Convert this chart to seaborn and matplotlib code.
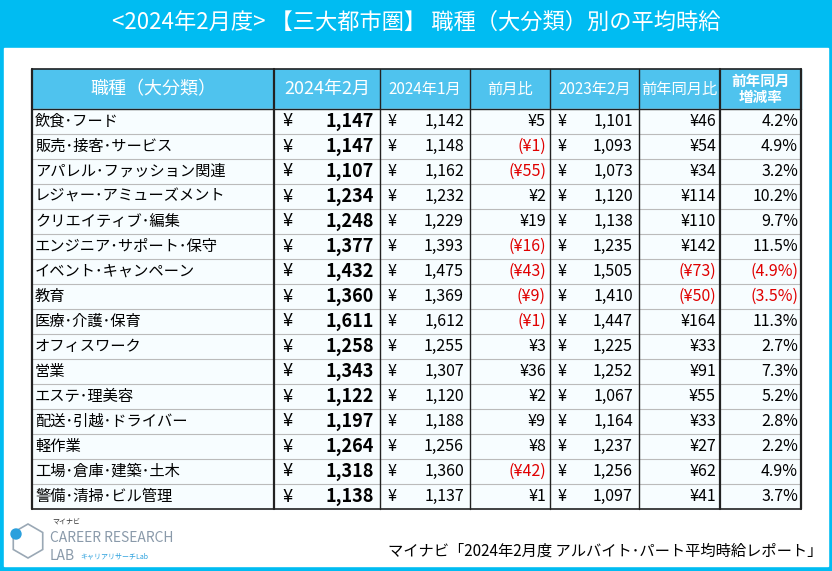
import matplotlib.pyplot as plt
import matplotlib.patches as mpatches
import seaborn as sns

sns.set_theme(style="white", font="Noto Sans CJK JP")

# data
categories = ['飲食・フード', '販売・接客・サービス', 'アパレル・ファッション関連', 'レジャー・アミューズメント',
              'クリエイティブ・編集', 'エンジニア・サポート・保守', 'イベント・キャンペーン', '教育',
              '医療・介護・保育', 'オフィスワーク', '営業', 'エステ・理美容',
              '配送・引越・ドライバー', '軽作業', '工場・倉庫・建築・土木', '警備・清掃・ビル管理']
feb_2024 = [1147, 1147, 1107, 1234, 1248, 1377, 1432, 1360, 1611, 1258, 1343, 1122, 1197, 1264, 1318, 1138]
jan_2024 = [1142, 1148, 1162, 1232, 1229, 1393, 1475, 1369, 1612, 1255, 1307, 1120, 1188, 1256, 1360, 1137]
feb_2023 = [1101, 1093, 1073, 1120, 1138, 1235, 1505, 1410, 1447, 1225, 1252, 1067, 1164, 1237, 1256, 1097]
yoy_rate = [4.2, 4.9, 3.2, 10.2, 9.7, 11.5, -4.9, -3.5, 11.3, 2.7, 7.3, 5.2, 2.8, 2.2, 4.9, 3.7]
headers = ['職種（大分類）', '2024年2月', '2024年1月', '前月比', '2023年2月', '前年同月比', '前年同月\n増減率']

BLUE = '#00BCF2'
HEAD = '#4FC3EE'
RED = '#E00000'
col_x = [32, 274, 380, 470, 550, 639, 720, 801]
top, head_h, row_h = 69, 40, 25

fig = plt.figure(figsize=(8.32, 5.71), dpi=100)
fig.patch.set_facecolor(BLUE)
ax = fig.add_axes([0, 0, 1, 1])
ax.set_xlim(0, 832)
ax.set_ylim(571, 0)
ax.axis('off')

ax.add_patch(mpatches.Rectangle((4, 48), 824, 518, color='white', zorder=0))
ax.text(416, 22, '<2024年2月度> 【三大都市圏】 職種（大分類）別の平均時給', color='white',
        fontsize=16, ha='center', va='center')

# header
ax.add_patch(mpatches.Rectangle((col_x[0], top), col_x[-1] - col_x[0], head_h, color=HEAD, zorder=1))
for i, h in enumerate(headers):
    cx = (col_x[i] + col_x[i + 1]) / 2
    fs = {0: 13, 1: 13, 6: 10.5}.get(i, 11)
    ax.text(cx, top + head_h / 2, h, color='white', fontsize=fs, ha='center', va='center',
            linespacing=1.0, fontweight='bold' if i == 6 else 'normal')

def yen(v):
    return f'¥{v:,}' if v >= 0 else f'(¥{-v:,})'

body_top = top + head_h
for r, cat in enumerate(categories):
    y = body_top + r * row_h + row_h / 2
    ax.add_patch(mpatches.Rectangle((col_x[0], body_top + r * row_h), col_x[-1] - col_x[0], row_h,
                                    color='#F7FDFF', zorder=1))
    ax.text(col_x[0] + 3, y, cat.replace('・', '･'), fontsize=11, ha='left', va='center', color='black')
    for ci, vals, fs, fw in [(1, feb_2024, 13, 'bold'), (2, jan_2024, 11.5, 'normal'), (4, feb_2023, 11.5, 'normal')]:
        ax.text(col_x[ci] + 8, y, '¥', fontsize=fs, ha='left', va='center', color='black')
        ax.text(col_x[ci + 1] - 6, y, f'{vals[r]:,}', fontsize=fs, ha='right', va='center',
                fontweight=fw, color='black')
    mom = feb_2024[r] - jan_2024[r]
    yoy = feb_2024[r] - feb_2023[r]
    ax.text(col_x[4] - 4, y, yen(mom), fontsize=11.5, ha='right', va='center',
            color=RED if mom < 0 else 'black')
    ax.text(col_x[6] - 4, y, yen(yoy), fontsize=11.5, ha='right', va='center',
            color=RED if yoy < 0 else 'black')
    rate = yoy_rate[r]
    ax.text(col_x[7] - 3, y, f'{rate:.1f}%' if rate >= 0 else f'({-rate:.1f}%)', fontsize=11.5,
            ha='right', va='center', color=RED if rate < 0 else 'black')

# grid lines
bottom = body_top + len(categories) * row_h
for r in range(1, len(categories)):
    yy = body_top + r * row_h
    ax.plot([col_x[0], col_x[-1]], [yy, yy], color='#BBBBBB', lw=0.8, zorder=2)
for i, x in enumerate(col_x):
    lw = 1.6 if i in (0, 1, 6, 7) else 1.0
    ax.plot([x, x], [top, bottom], color='#222222', lw=lw, zorder=3)
ax.plot([col_x[0], col_x[-1]], [top, top], color='#222222', lw=1.2, zorder=3)
ax.plot([col_x[0], col_x[-1]], [body_top, body_top], color='#222222', lw=1.0, zorder=3)
ax.plot([col_x[0], col_x[-1]], [bottom, bottom], color='#222222', lw=1.2, zorder=3)

# footer logo and source
ax.text(52, 522, 'マイナビ', fontsize=5, ha='left', va='center', color='#333333')
ax.text(50, 538, 'CAREER RESEARCH', fontsize=10, ha='left', va='center', color='#8A9AAA')
ax.text(50, 556, 'LAB', fontsize=10, ha='left', va='center', color='#8A9AAA')
ax.text(80, 556, 'キャリアリサーチLab', fontsize=5, ha='left', va='center', color='#2AA0DD')
ax.add_patch(mpatches.RegularPolygon((28, 541), 6, radius=17, fill=False, ec='#9AA8B5', lw=1.2))
ax.add_patch(mpatches.Circle((16, 534), 5, color='#2AA0DD'))
ax.text(822, 551, 'マイナビ「2024年2月度 アルバイト･パート平均時給レポート」', fontsize=11,
        ha='right', va='center', color='black')

fig.savefig('out.png', dpi=100)
